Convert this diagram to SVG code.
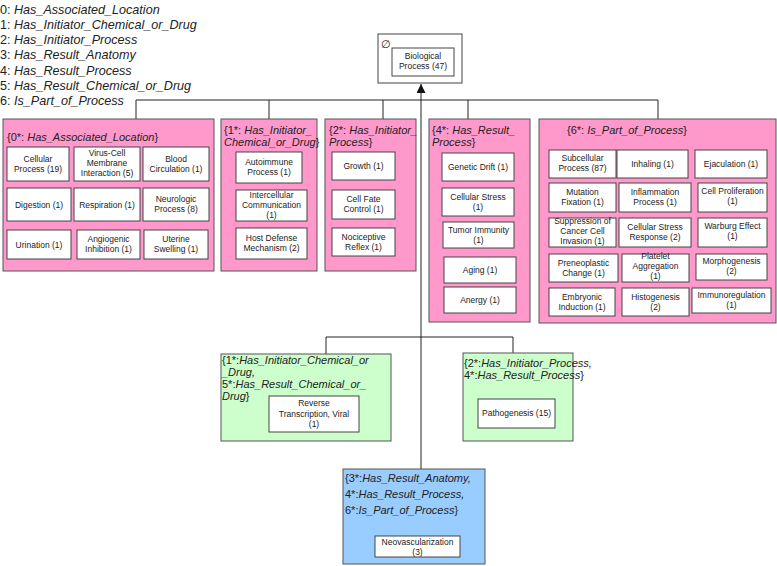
<svg xmlns="http://www.w3.org/2000/svg" width="777" height="566" viewBox="0 0 777 566">
<style>
text{font-family:"Liberation Sans",Arial,sans-serif;fill:#222}
.lg{font-size:12.6px}
.t{font-size:11px}
.n{font-size:8.5px;text-anchor:middle}
.i{font-style:italic}
.pk{fill:#ff99cc;stroke:#555;stroke-width:1}
.gr{fill:#ccffcc;stroke:#555;stroke-width:1}
.bl{fill:#99ccff;stroke:#555;stroke-width:1}
.nd{fill:#fff;stroke:#444;stroke-width:1}
.ln{fill:none;stroke:#222;stroke-width:1}
</style>
<defs>
<marker id="ah" viewBox="0 0 10 10" refX="10" refY="5" markerWidth="9" markerHeight="9" markerUnits="userSpaceOnUse" orient="auto"><path d="M0,0L10,5L0,10z" fill="#111"/></marker>
</defs>
<rect width="777" height="566" fill="#fff"/>
<g id="legend" class="lg">
<text x="0" y="13.5">0: <tspan class="i">Has_Associated_Location</tspan></text>
<text x="0" y="28.5">1: <tspan class="i">Has_Initiator_Chemical_or_Drug</tspan></text>
<text x="0" y="44">2: <tspan class="i">Has_Initiator_Process</tspan></text>
<text x="0" y="59">3: <tspan class="i">Has_Result_Anatomy</tspan></text>
<text x="0" y="74.5">4: <tspan class="i">Has_Result_Process</tspan></text>
<text x="0" y="89.5">5: <tspan class="i">Has_Result_Chemical_or_Drug</tspan></text>
<text x="0" y="104.5">6: <tspan class="i">Is_Part_of_Process</tspan></text>
</g>
<g id="connectors">
<path class="ln" d="M136,119V100H658V119M269,100V119M383,100V119M468,100V119"/>
<path class="ln" d="M326,354V337H513V353"/>
<path class="ln" d="M421,469V84" marker-end="url(#ah)"/>
</g>
<g id="root">
<rect x="378" y="34" width="84" height="49" fill="#fff" stroke="#444"/>
<text x="381" y="48" class="t">∅</text>
<rect class="nd" x="392" y="48" width="62" height="28"/>
<text class="n" x="423" y="59">Biological</text>
<text class="n" x="423" y="68.5">Process (47)</text>
</g>
<g id="group0">
<rect class="pk" x="3" y="119" width="211" height="152"/>
<text class="t" x="7" y="141">{0*: <tspan class="i">Has_Associated_Location</tspan>}</text>
<rect class="nd" x="7" y="147" width="62" height="34"/><text class="n" x="38" y="162">Cellular<tspan x="38" dy="10">Process (19)</tspan></text>
<rect class="nd" x="74" y="147" width="66" height="34"/><text class="n" x="107" y="156">Virus-Cell<tspan x="107" dy="10">Membrane</tspan><tspan x="107" dy="10">Interaction (5)</tspan></text>
<rect class="nd" x="143" y="147" width="66" height="34"/><text class="n" x="176" y="162">Blood<tspan x="176" dy="10">Circulation (1)</tspan></text>
<rect class="nd" x="7" y="188" width="64" height="33"/><text class="n" x="39" y="207.5">Digestion (1)</text>
<rect class="nd" x="74" y="188" width="66" height="33"/><text class="n" x="107" y="207.5">Respiration (1)</text>
<rect class="nd" x="143" y="188" width="66" height="33"/><text class="n" x="176" y="202">Neurologic<tspan x="176" dy="10">Process (8)</tspan></text>
<rect class="nd" x="7" y="230" width="64" height="29"/><text class="n" x="39" y="247.5">Urination (1)</text>
<rect class="nd" x="77" y="230" width="63" height="29"/><text class="n" x="108.5" y="242">Angiogenic<tspan x="108.5" dy="10">Inhibition (1)</tspan></text>
<rect class="nd" x="144" y="230" width="64" height="29"/><text class="n" x="176" y="242">Uterine<tspan x="176" dy="10">Swelling (1)</tspan></text>
</g>
<g id="group1">
<rect class="pk" x="221" y="119" width="96" height="152"/>
<text class="t" x="224" y="134">{1*: <tspan class="i">Has_Initiator_</tspan><tspan x="224" dy="12" class="i">Chemical_or_Drug</tspan>}</text>
<rect class="nd" x="236" y="152" width="66" height="31"/><text class="n" x="269" y="165">Autoimmune<tspan x="269" dy="10">Process (1)</tspan></text>
<rect class="nd" x="236" y="190" width="71" height="31"/><text class="n" x="271.5" y="198">Intercellular<tspan x="271.5" dy="10">Communication</tspan><tspan x="271.5" dy="10">(1)</tspan></text>
<rect class="nd" x="236" y="228" width="71" height="31"/><text class="n" x="271.5" y="241">Host Defense<tspan x="271.5" dy="10">Mechanism (2)</tspan></text>
</g>
<g id="group2">
<rect class="pk" x="325" y="119" width="91" height="152"/>
<text class="t" x="329" y="134">{2*: <tspan class="i">Has_Initiator_</tspan><tspan x="329" dy="12" class="i">Process</tspan>}</text>
<rect class="nd" x="332" y="152" width="63" height="28"/><text class="n" x="363.5" y="169">Growth (1)</text>
<rect class="nd" x="332" y="190" width="63" height="29"/><text class="n" x="363.5" y="202">Cell Fate<tspan x="363.5" dy="10">Control (1)</tspan></text>
<rect class="nd" x="332" y="228" width="63" height="28"/><text class="n" x="363.5" y="240">Nociceptive<tspan x="363.5" dy="10">Reflex (1)</tspan></text>
</g>
<g id="group4">
<rect class="pk" x="429" y="119" width="101" height="203"/>
<text class="t" x="432" y="134">{4*: <tspan class="i">Has_Result_</tspan><tspan x="432" dy="12" class="i">Process</tspan>}</text>
<rect class="nd" x="442" y="153" width="72" height="28"/><text class="n" x="478" y="170">Genetic Drift (1)</text>
<rect class="nd" x="442" y="188" width="72" height="28"/><text class="n" x="478" y="200">Cellular Stress<tspan x="478" dy="10">(1)</tspan></text>
<rect class="nd" x="443" y="222" width="71" height="26"/><text class="n" x="478.5" y="233">Tumor Immunity<tspan x="478.5" dy="10">(1)</tspan></text>
<rect class="nd" x="444" y="257" width="72" height="26"/><text class="n" x="480" y="273">Aging (1)</text>
<rect class="nd" x="444" y="287" width="72" height="26"/><text class="n" x="480" y="303">Anergy (1)</text>
</g>
<g id="group6">
<rect class="pk" x="539" y="119" width="237" height="204"/>
<text class="t" x="567" y="134">{6*: <tspan class="i">Is_Part_of_Process</tspan>}</text>
<rect class="nd" x="549" y="150" width="67" height="28"/><text class="n" x="582.5" y="161">Subcellular<tspan x="582.5" dy="10">Process (87)</tspan></text>
<rect class="nd" x="617" y="150" width="71" height="28"/><text class="n" x="652.5" y="167">Inhaling (1)</text>
<rect class="nd" x="695" y="150" width="72" height="28"/><text class="n" x="731" y="167">Ejaculation (1)</text>
<rect class="nd" x="549" y="183" width="67" height="29"/><text class="n" x="582.5" y="195">Mutation<tspan x="582.5" dy="10">Fixation (1)</tspan></text>
<rect class="nd" x="619" y="183" width="72" height="29"/><text class="n" x="655" y="195">Inflammation<tspan x="655" dy="10">Process (1)</tspan></text>
<rect class="nd" x="698" y="183" width="69" height="29"/><text class="n" x="732.5" y="194">Cell Proliferation<tspan x="732.5" dy="10">(1)</tspan></text>
<rect class="nd" x="549" y="218" width="67" height="29"/><text class="n" x="582.5" y="224">Suppression of<tspan x="582.5" dy="10">Cancer Cell</tspan><tspan x="582.5" dy="10">Invasion (1)</tspan></text>
<rect class="nd" x="619" y="218" width="72" height="29"/><text class="n" x="655" y="230">Cellular Stress<tspan x="655" dy="10">Response (2)</tspan></text>
<rect class="nd" x="698" y="218" width="69" height="29"/><text class="n" x="732.5" y="229">Warburg Effect<tspan x="732.5" dy="10">(1)</tspan></text>
<rect class="nd" x="549" y="254" width="69" height="28"/><text class="n" x="583.5" y="266">Preneoplastic<tspan x="583.5" dy="10">Change (1)</tspan></text>
<rect class="nd" x="622" y="254" width="67" height="28"/><text class="n" x="655.5" y="259">Platelet<tspan x="655.5" dy="10">Aggregation</tspan><tspan x="655.5" dy="10">(1)</tspan></text>
<rect class="nd" x="696" y="254" width="71" height="26"/><text class="n" x="731.5" y="264">Morphogenesis<tspan x="731.5" dy="10">(2)</tspan></text>
<rect class="nd" x="549" y="288" width="66" height="28"/><text class="n" x="582" y="300">Embryonic<tspan x="582" dy="10">Induction (1)</tspan></text>
<rect class="nd" x="622" y="288" width="67" height="28"/><text class="n" x="655.5" y="300">Histogenesis<tspan x="655.5" dy="10">(2)</tspan></text>
<rect class="nd" x="692" y="288" width="79" height="25"/><text class="n" x="731.5" y="298">Immunoregulation<tspan x="731.5" dy="10">(1)</tspan></text>
</g>
<g id="groupA">
<rect class="gr" x="221" y="354" width="170" height="87"/>
<text class="t" x="222" y="364">{1*:<tspan class="i">Has_Initiator_Chemical_or</tspan><tspan x="222" dy="12" class="i">_Drug,</tspan><tspan x="222" dy="12">5*:</tspan><tspan class="i">Has_Result_Chemical_or_</tspan><tspan x="222" dy="12" class="i">Drug</tspan>}</text>
<rect class="nd" x="269" y="396" width="90" height="36"/><text class="n" x="314" y="406">Reverse<tspan x="314" dy="10.5">Transcription, Viral</tspan><tspan x="314" dy="10.5">(1)</tspan></text>
</g>
<g id="groupB">
<rect class="gr" x="463" y="353" width="110" height="88"/>
<text class="t" x="464" y="367">{2*:<tspan class="i">Has_Initiator_Process,</tspan><tspan x="464" dy="11.5">4*:</tspan><tspan class="i">Has_Result_Process</tspan>}</text>
<rect class="nd" x="478" y="399" width="77" height="29"/><text class="n" x="516.5" y="416">Pathogenesis (15)</text>
</g>
<g id="groupC">
<rect class="bl" x="343" y="469" width="142" height="95"/>
<text class="t" x="345" y="482">{3*:<tspan class="i">Has_Result_Anatomy,</tspan><tspan x="345" dy="16">4*:</tspan><tspan class="i">Has_Result_Process,</tspan><tspan x="345" dy="16">6*:</tspan><tspan class="i">Is_Part_of_Process</tspan>}</text>
<rect class="nd" x="375" y="536" width="85" height="21"/><text class="n" x="417.5" y="545">Neovascularization<tspan x="417.5" dy="9.5">(3)</tspan></text>
</g>
</svg>
